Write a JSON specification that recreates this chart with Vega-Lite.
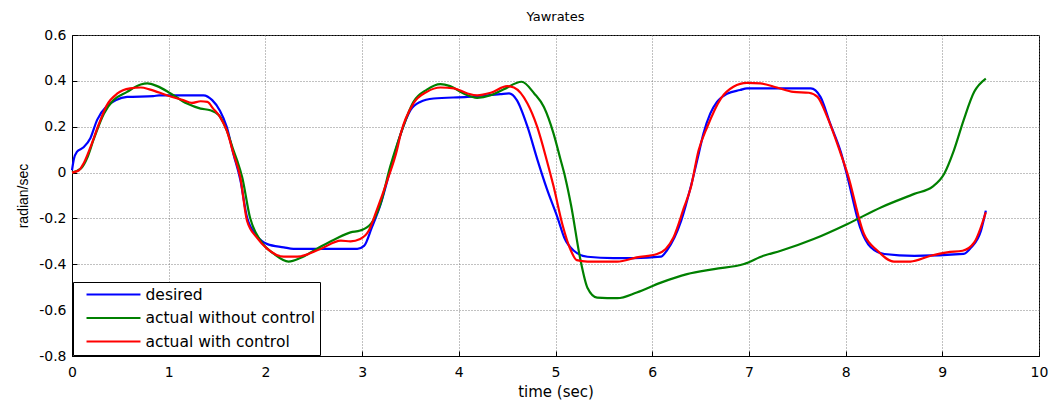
{
  "$schema": "https://vega.github.io/schema/vega-lite/v6.json",
  "width": 967,
  "height": 321,
  "autosize": {"type": "none"},
  "padding": {"left": 72, "top": 35, "right": 13, "bottom": 45},
  "background": "white",
  "title": {"text": "Yawrates", "fontSize": 13, "fontWeight": "normal", "font": "DejaVu Sans", "offset": 4, "color": "black"},
  "config": {
    "font": "DejaVu Sans",
    "view": {"stroke": "black", "strokeWidth": 1},
    "axis": {
      "domainColor": "black",
      "tickColor": "black",
      "labelColor": "black",
      "titleColor": "black",
      "labelFont": "DejaVu Sans",
      "labelFontSize": 14,
      "labelFlush": false,
      "labelOverlap": false,
      "titleFont": "DejaVu Sans",
      "titleFontSize": 13,
      "titleFontWeight": "normal",
      "gridColor": "#777777",
      "gridDash": [1, 2],
      "gridOpacity": 0.9,
      "tickSize": -5
    }
  },
  "data": {"values": [
    {"t":0,"y":0.01,"s":"desired"},{"t":0.02,"y":0.06,"s":"desired"},{"t":0.05,"y":0.09,"s":"desired"},{"t":0.12,"y":0.11,"s":"desired"},{"t":0.19,"y":0.15,"s":"desired"},{"t":0.26,"y":0.23,"s":"desired"},{"t":0.36,"y":0.29,"s":"desired"},{"t":0.45,"y":0.315,"s":"desired"},{"t":0.57,"y":0.33,"s":"desired"},{"t":0.84,"y":0.333,"s":"desired"},{"t":0.9,"y":0.337,"s":"desired"},{"t":1.36,"y":0.337,"s":"desired"},{"t":1.45,"y":0.316,"s":"desired"},{"t":1.53,"y":0.27,"s":"desired"},{"t":1.6,"y":0.2,"s":"desired"},{"t":1.67,"y":0.08,"s":"desired"},{"t":1.74,"y":-0.03,"s":"desired"},{"t":1.81,"y":-0.195,"s":"desired"},{"t":1.91,"y":-0.275,"s":"desired"},{"t":2.02,"y":-0.312,"s":"desired"},{"t":2.19,"y":-0.326,"s":"desired"},{"t":2.29,"y":-0.333,"s":"desired"},{"t":2.95,"y":-0.333,"s":"desired"},{"t":3.02,"y":-0.32,"s":"desired"},{"t":3.1,"y":-0.24,"s":"desired"},{"t":3.19,"y":-0.14,"s":"desired"},{"t":3.29,"y":0.01,"s":"desired"},{"t":3.4,"y":0.17,"s":"desired"},{"t":3.5,"y":0.272,"s":"desired"},{"t":3.6,"y":0.308,"s":"desired"},{"t":3.74,"y":0.323,"s":"desired"},{"t":4.09,"y":0.33,"s":"desired"},{"t":4.43,"y":0.342,"s":"desired"},{"t":4.52,"y":0.345,"s":"desired"},{"t":4.6,"y":0.316,"s":"desired"},{"t":4.71,"y":0.2,"s":"desired"},{"t":4.81,"y":0.06,"s":"desired"},{"t":4.91,"y":-0.07,"s":"desired"},{"t":5.02,"y":-0.195,"s":"desired"},{"t":5.09,"y":-0.283,"s":"desired"},{"t":5.19,"y":-0.341,"s":"desired"},{"t":5.33,"y":-0.367,"s":"desired"},{"t":5.6,"y":-0.373,"s":"desired"},{"t":5.81,"y":-0.373,"s":"desired"},{"t":6.09,"y":-0.367,"s":"desired"},{"t":6.15,"y":-0.341,"s":"desired"},{"t":6.3,"y":-0.21,"s":"desired"},{"t":6.4,"y":-0.06,"s":"desired"},{"t":6.48,"y":0.08,"s":"desired"},{"t":6.53,"y":0.17,"s":"desired"},{"t":6.6,"y":0.257,"s":"desired"},{"t":6.67,"y":0.308,"s":"desired"},{"t":6.78,"y":0.345,"s":"desired"},{"t":6.91,"y":0.36,"s":"desired"},{"t":6.98,"y":0.367,"s":"desired"},{"t":7.64,"y":0.367,"s":"desired"},{"t":7.74,"y":0.33,"s":"desired"},{"t":7.84,"y":0.214,"s":"desired"},{"t":7.95,"y":0.09,"s":"desired"},{"t":8.02,"y":-0.02,"s":"desired"},{"t":8.15,"y":-0.239,"s":"desired"},{"t":8.26,"y":-0.326,"s":"desired"},{"t":8.4,"y":-0.355,"s":"desired"},{"t":8.71,"y":-0.363,"s":"desired"},{"t":9.22,"y":-0.355,"s":"desired"},{"t":9.3,"y":-0.326,"s":"desired"},{"t":9.4,"y":-0.253,"s":"desired"},{"t":9.45,"y":-0.166,"s":"desired"},
    {"t":0,"y":0,"s":"actual without control"},{"t":0.09,"y":0.017,"s":"actual without control"},{"t":0.16,"y":0.067,"s":"actual without control"},{"t":0.22,"y":0.14,"s":"actual without control"},{"t":0.33,"y":0.257,"s":"actual without control"},{"t":0.43,"y":0.316,"s":"actual without control"},{"t":0.57,"y":0.352,"s":"actual without control"},{"t":0.71,"y":0.384,"s":"actual without control"},{"t":0.78,"y":0.389,"s":"actual without control"},{"t":0.88,"y":0.377,"s":"actual without control"},{"t":1.02,"y":0.345,"s":"actual without control"},{"t":1.19,"y":0.301,"s":"actual without control"},{"t":1.33,"y":0.279,"s":"actual without control"},{"t":1.43,"y":0.272,"s":"actual without control"},{"t":1.52,"y":0.25,"s":"actual without control"},{"t":1.6,"y":0.184,"s":"actual without control"},{"t":1.67,"y":0.097,"s":"actual without control"},{"t":1.71,"y":0.05,"s":"actual without control"},{"t":1.76,"y":-0.02,"s":"actual without control"},{"t":1.84,"y":-0.195,"s":"actual without control"},{"t":1.95,"y":-0.297,"s":"actual without control"},{"t":2.09,"y":-0.355,"s":"actual without control"},{"t":2.24,"y":-0.388,"s":"actual without control"},{"t":2.36,"y":-0.373,"s":"actual without control"},{"t":2.53,"y":-0.333,"s":"actual without control"},{"t":2.74,"y":-0.286,"s":"actual without control"},{"t":2.88,"y":-0.261,"s":"actual without control"},{"t":2.98,"y":-0.253,"s":"actual without control"},{"t":3.09,"y":-0.224,"s":"actual without control"},{"t":3.19,"y":-0.137,"s":"actual without control"},{"t":3.29,"y":0.025,"s":"actual without control"},{"t":3.36,"y":0.12,"s":"actual without control"},{"t":3.4,"y":0.17,"s":"actual without control"},{"t":3.53,"y":0.308,"s":"actual without control"},{"t":3.67,"y":0.362,"s":"actual without control"},{"t":3.81,"y":0.386,"s":"actual without control"},{"t":3.91,"y":0.377,"s":"actual without control"},{"t":4.05,"y":0.345,"s":"actual without control"},{"t":4.19,"y":0.326,"s":"actual without control"},{"t":4.33,"y":0.337,"s":"actual without control"},{"t":4.46,"y":0.362,"s":"actual without control"},{"t":4.65,"y":0.396,"s":"actual without control"},{"t":4.78,"y":0.345,"s":"actual without control"},{"t":4.88,"y":0.286,"s":"actual without control"},{"t":4.98,"y":0.17,"s":"actual without control"},{"t":5.05,"y":0.06,"s":"actual without control"},{"t":5.1,"y":-0.02,"s":"actual without control"},{"t":5.16,"y":-0.14,"s":"actual without control"},{"t":5.26,"y":-0.385,"s":"actual without control"},{"t":5.33,"y":-0.502,"s":"actual without control"},{"t":5.43,"y":-0.545,"s":"actual without control"},{"t":5.64,"y":-0.548,"s":"actual without control"},{"t":5.84,"y":-0.523,"s":"actual without control"},{"t":6.09,"y":-0.48,"s":"actual without control"},{"t":6.36,"y":-0.443,"s":"actual without control"},{"t":6.64,"y":-0.421,"s":"actual without control"},{"t":6.95,"y":-0.399,"s":"actual without control"},{"t":7.15,"y":-0.363,"s":"actual without control"},{"t":7.33,"y":-0.341,"s":"actual without control"},{"t":7.67,"y":-0.29,"s":"actual without control"},{"t":8.02,"y":-0.224,"s":"actual without control"},{"t":8.37,"y":-0.151,"s":"actual without control"},{"t":8.71,"y":-0.093,"s":"actual without control"},{"t":8.9,"y":-0.061,"s":"actual without control"},{"t":9.02,"y":-0.005,"s":"actual without control"},{"t":9.12,"y":0.097,"s":"actual without control"},{"t":9.22,"y":0.228,"s":"actual without control"},{"t":9.33,"y":0.352,"s":"actual without control"},{"t":9.45,"y":0.41,"s":"actual without control"},
    {"t":0,"y":0,"s":"actual with control"},{"t":0.07,"y":0.009,"s":"actual with control"},{"t":0.12,"y":0.04,"s":"actual with control"},{"t":0.19,"y":0.11,"s":"actual with control"},{"t":0.28,"y":0.214,"s":"actual with control"},{"t":0.36,"y":0.294,"s":"actual with control"},{"t":0.47,"y":0.345,"s":"actual with control"},{"t":0.6,"y":0.367,"s":"actual with control"},{"t":0.71,"y":0.371,"s":"actual with control"},{"t":0.81,"y":0.362,"s":"actual with control"},{"t":0.98,"y":0.337,"s":"actual with control"},{"t":1.15,"y":0.316,"s":"actual with control"},{"t":1.24,"y":0.304,"s":"actual with control"},{"t":1.33,"y":0.311,"s":"actual with control"},{"t":1.4,"y":0.308,"s":"actual with control"},{"t":1.46,"y":0.279,"s":"actual with control"},{"t":1.53,"y":0.243,"s":"actual with control"},{"t":1.6,"y":0.184,"s":"actual with control"},{"t":1.67,"y":0.082,"s":"actual with control"},{"t":1.74,"y":-0.02,"s":"actual with control"},{"t":1.81,"y":-0.21,"s":"actual with control"},{"t":1.91,"y":-0.283,"s":"actual with control"},{"t":2.02,"y":-0.333,"s":"actual with control"},{"t":2.19,"y":-0.367,"s":"actual with control"},{"t":2.33,"y":-0.367,"s":"actual with control"},{"t":2.57,"y":-0.333,"s":"actual with control"},{"t":2.78,"y":-0.297,"s":"actual with control"},{"t":2.88,"y":-0.3,"s":"actual with control"},{"t":2.98,"y":-0.29,"s":"actual with control"},{"t":3.07,"y":-0.253,"s":"actual with control"},{"t":3.15,"y":-0.166,"s":"actual with control"},{"t":3.26,"y":-0.035,"s":"actual with control"},{"t":3.36,"y":0.097,"s":"actual with control"},{"t":3.4,"y":0.17,"s":"actual with control"},{"t":3.53,"y":0.301,"s":"actual with control"},{"t":3.67,"y":0.352,"s":"actual with control"},{"t":3.81,"y":0.371,"s":"actual with control"},{"t":3.95,"y":0.367,"s":"actual with control"},{"t":4.09,"y":0.345,"s":"actual with control"},{"t":4.19,"y":0.337,"s":"actual with control"},{"t":4.33,"y":0.348,"s":"actual with control"},{"t":4.5,"y":0.377,"s":"actual with control"},{"t":4.57,"y":0.371,"s":"actual with control"},{"t":4.71,"y":0.301,"s":"actual with control"},{"t":4.81,"y":0.2,"s":"actual with control"},{"t":4.91,"y":0.053,"s":"actual with control"},{"t":4.98,"y":-0.06,"s":"actual with control"},{"t":5.07,"y":-0.224,"s":"actual with control"},{"t":5.16,"y":-0.341,"s":"actual with control"},{"t":5.22,"y":-0.382,"s":"actual with control"},{"t":5.33,"y":-0.388,"s":"actual with control"},{"t":5.64,"y":-0.388,"s":"actual with control"},{"t":5.84,"y":-0.37,"s":"actual with control"},{"t":6.05,"y":-0.355,"s":"actual with control"},{"t":6.14,"y":-0.333,"s":"actual with control"},{"t":6.22,"y":-0.283,"s":"actual with control"},{"t":6.33,"y":-0.151,"s":"actual with control"},{"t":6.4,"y":-0.064,"s":"actual with control"},{"t":6.48,"y":0.097,"s":"actual with control"},{"t":6.57,"y":0.2,"s":"actual with control"},{"t":6.71,"y":0.323,"s":"actual with control"},{"t":6.84,"y":0.374,"s":"actual with control"},{"t":6.98,"y":0.391,"s":"actual with control"},{"t":7.12,"y":0.389,"s":"actual with control"},{"t":7.29,"y":0.371,"s":"actual with control"},{"t":7.46,"y":0.352,"s":"actual with control"},{"t":7.62,"y":0.348,"s":"actual with control"},{"t":7.71,"y":0.33,"s":"actual with control"},{"t":7.81,"y":0.243,"s":"actual with control"},{"t":7.95,"y":0.082,"s":"actual with control"},{"t":8.02,"y":-0.005,"s":"actual with control"},{"t":8.19,"y":-0.268,"s":"actual with control"},{"t":8.33,"y":-0.341,"s":"actual with control"},{"t":8.5,"y":-0.388,"s":"actual with control"},{"t":8.67,"y":-0.388,"s":"actual with control"},{"t":8.88,"y":-0.363,"s":"actual with control"},{"t":9.05,"y":-0.348,"s":"actual with control"},{"t":9.21,"y":-0.341,"s":"actual with control"},{"t":9.33,"y":-0.305,"s":"actual with control"},{"t":9.45,"y":-0.173,"s":"actual with control"}
  ]},
  "mark": {"type": "line", "strokeWidth": 2.2, "interpolate": "monotone"},
  "encoding": {
    "x": {"field": "t", "type": "quantitative", "scale": {"domain": [0, 10], "nice": false},
      "axis": {"title": "time (sec)", "titleFontSize": 15, "values": [0,1,2,3,4,5,6,7,8,9,10], "format": "d", "labelPadding": 14, "titlePadding": 5}},
    "y": {"field": "y", "type": "quantitative", "scale": {"domain": [-0.8, 0.6], "nice": false, "zero": false},
      "axis": {"title": "radian/sec", "titleFont": "Liberation Sans", "titleFontSize": 14, "values": [-0.8,-0.6,-0.4,-0.2,0,0.2,0.4,0.6], "format": ".1~f", "labelExpr": "replace(datum.label, '\u2212', '-')", "labelPadding": 11, "titlePadding": 8}},
    "color": {"field": "s", "type": "nominal",
      "scale": {"domain": ["desired", "actual without control", "actual with control"], "range": ["#0000ff", "#008000", "#ff0000"]},
      "legend": {"title": null, "orient": "none", "legendX": 1, "legendY": 247,
        "symbolType": "M-4,0H4", "symbolSize": 182, "symbolStrokeWidth": 2.2, "symbolOffset": 28,
        "labelFont": "DejaVu Sans", "labelFontSize": 15.5, "labelLimit": 400, "labelColor": "black", "strokeColor": "black", "fillColor": "white",
        "padding": 4.5, "rowPadding": 6.5, "labelOffset": 24}}
  }
}
